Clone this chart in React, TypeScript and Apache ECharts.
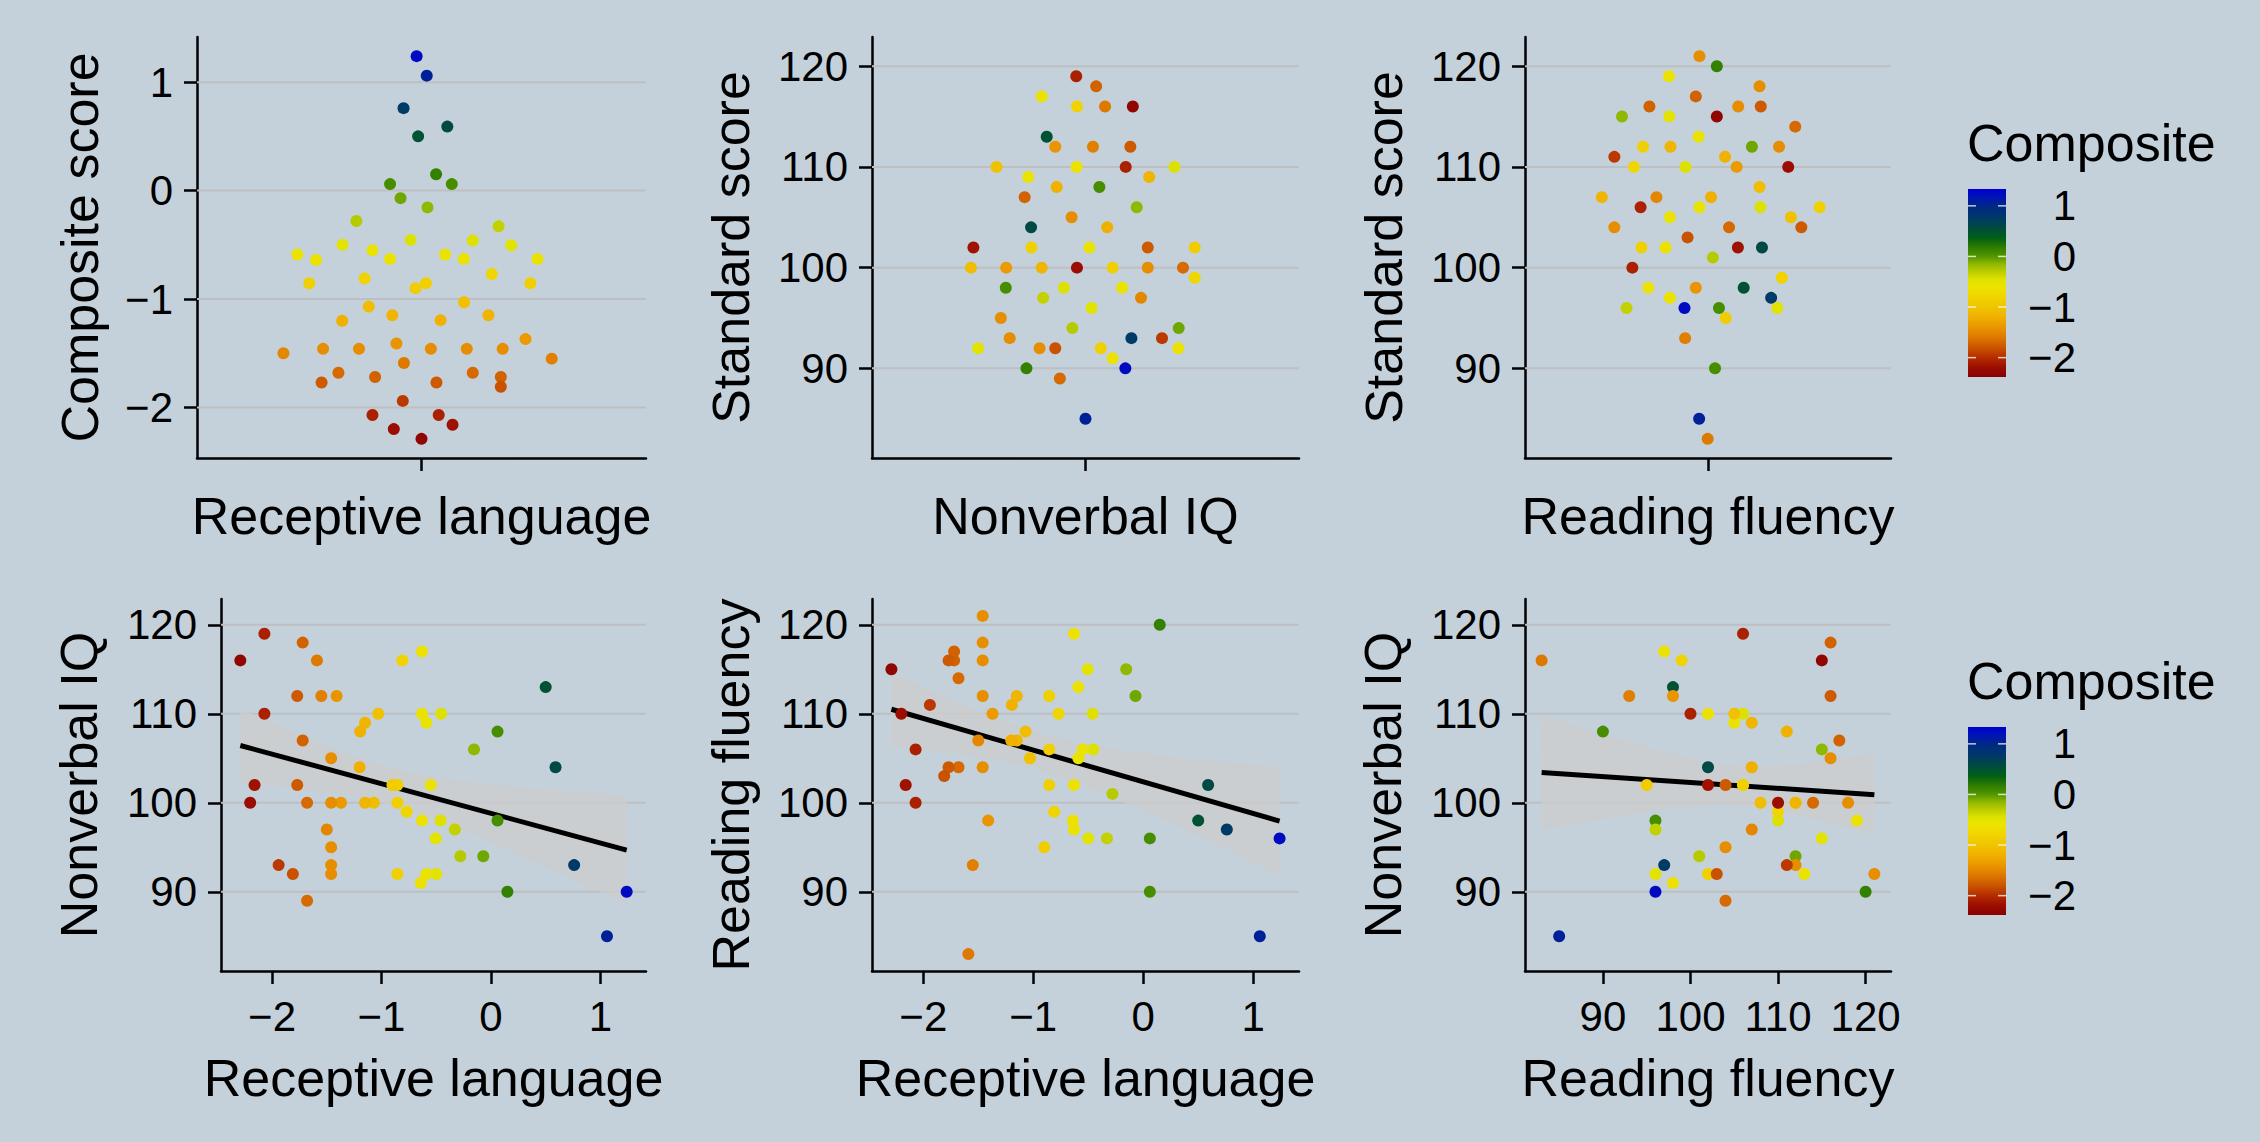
import React, { useEffect, useRef } from "react";
import * as echarts from "echarts";

// ---------------- data: one entry per participant ----------------
const composite = [
  1.24, 1.06, 0.76, 0.59, 0.5, 0.15, 0.06, 0.06, -0.07, -0.155, -0.28, -0.33, -0.455, -0.46, -0.5,
  -0.505, -0.55, -0.59, -0.59, -0.63, -0.63, -0.63, -0.64, -0.77, -0.81, -0.855, -0.855, -0.855, -0.9,
  -1.03, -1.07, -1.15, -1.15, -1.195, -1.2, -1.37, -1.41, -1.46, -1.46, -1.46, -1.46, -1.46, -1.5,
  -1.55, -1.59, -1.68, -1.68, -1.72, -1.72, -1.77, -1.77, -1.81, -1.94, -2.07, -2.07, -2.16, -2.2, -2.29,
];
const nonverbalIQ = [
  90, 85, 93, 104, 113, 90, 108, 98, 94, 106, 94, 97, 110, 98, 92, 96, 102, 109, 92, 117, 110, 98, 91,
  99, 116, 102, 100, 92, 102, 110, 100, 109, 100, 108, 104, 100, 112, 105, 100, 95, 93, 92, 97, 112,
  116, 100, 89, 118, 107, 112, 102, 92, 93, 119, 110, 102, 100, 116,
];
const readingFluency = [
  96, 85, 97, 102, 98, 120, 90, 96, 112, 115, 101, 96, 106, 110, 96, 115, 106, 105, 113, 97, 102, 119,
  98, 110, 99, 106, 112, 102, 95, 105, 108, 107, 112, 111, 107, 110, 98, 116, 118, 104, 112, 121, 107,
  93, 83, 114, 104, 116, 117, 116, 104, 103, 111, 106, 100, 102, 110, 115,
];
// horizontal jitter offsets of the strip plots
const jitterComposite = [
  -0.013, 0.014, -0.048, 0.069, -0.009, 0.039, -0.084, 0.081, -0.056, 0.016, -0.174, 0.206, -0.029,
  0.137, -0.211, 0.24, -0.131, -0.332, 0.063, -0.084, 0.113, 0.31, -0.282, 0.188, -0.152, -0.3, 0.012,
  0.291, -0.016, 0.114, -0.141, -0.078, 0.179, 0.051, -0.212, 0.278, -0.067, -0.263, -0.167, 0.025,
  0.121, 0.217, -0.369, 0.348, -0.047, -0.222, 0.137, -0.124, 0.212, -0.267, 0.04, 0.212, -0.05,
  -0.131, 0.046, 0.083, -0.074, 0.0,
];
const jitterNonverbal = [
  0.112, 0.0, 0.129, -0.153, -0.109, -0.166, 0.039, -0.224, 0.262, 0.144, -0.037, -0.119, 0.25,
  -0.061, -0.302, 0.017, 0.011, -0.161, 0.261, -0.123, -0.025, 0.103, 0.076, 0.307, -0.024, -0.152,
  0.076, 0.043, 0.307, -0.25, -0.322, 0.179, -0.123, -0.081, 0.061, -0.223, -0.085, -0.039, 0.175,
  -0.238, -0.213, -0.129, 0.156, 0.021, 0.055, 0.274, -0.072, 0.03, -0.171, 0.126, 0.175, -0.085,
  0.215, -0.026, 0.113, -0.315, -0.024, 0.133,
];
const jitterReading = [
  -0.077, -0.029, 0.207, 0.177, 0.117, 0.029, 0.023, 0.036, 0.144, -0.282, 0.016, -0.267, 0.172,
  -0.074, 0.227, -0.127, -0.028, -0.125, -0.031, -0.125, -0.139, -0.128, -0.196, -0.243, 0.242, 0.366,
  -0.213, -0.218, 0.058, 0.272, 0.169, -0.348, -0.123, 0.056, 0.01, 0.094, -0.04, 0.099, 0.169,
  -0.307, 0.233, -0.028, -0.169, -0.075, -0.001, 0.286, 0.069, -0.192, -0.04, 0.173, 0.306, -0.067,
  -0.307, -0.221, -0.248, 0.098, 0.263, 0.029,
];

const compositeTicks = [-2, -1, 0, 1];
const standardTicks = [90, 100, 110, 120];
const legendTicks = [-2, -1, 0, 1];
const legendTitle = "Composite";
const yTitles = ["Composite score", "Standard score", "Standard score", "Nonverbal IQ", "Reading fluency", "Nonverbal IQ"];
const xTitles = ["Receptive language", "Nonverbal IQ", "Reading fluency", "Receptive language", "Receptive language", "Reading fluency"];

// ---------------- styles & layout ----------------
const W = 2260;
const H = 1142;
const BG = "#c4d1db";
const GRID_COLOR = "#bdbfc2";
const BAND_COLOR = "rgba(205,205,205,0.72)";
const FONT = "'Liberation Sans', Arial, Helvetica, sans-serif";
const TITLE_SIZE = 52;
const TICK_SIZE = 42;

const GRIDS = [
  { left: 197, top: 37, width: 449, height: 421 },
  { left: 872, top: 37, width: 427, height: 421 },
  { left: 1525, top: 37, width: 366, height: 421 },
  { left: 221, top: 599, width: 425, height: 372 },
  { left: 872, top: 599, width: 427, height: 372 },
  { left: 1525, top: 599, width: 366, height: 372 },
];
const Y_TITLE_X = [80, 731, 1384, 79, 731, 1383];
const X_TITLE_Y = [516, 516, 516, 1078, 1078, 1078];
const LEGEND_OFFSETS = [0, 538];
const STRIP_RANGE = [0.4, 1.6];

// colour scale anchors (value -> colour)
const RAMP: [number, string][] = [
  [-2.38, "#880000"],
  [-2.2, "#9a0c00"],
  [-2.0, "#b42c00"],
  [-1.8, "#ca5400"],
  [-1.6, "#de7800"],
  [-1.4, "#ea9600"],
  [-1.2, "#f0b000"],
  [-1.0, "#f0c400"],
  [-0.8, "#f0d400"],
  [-0.6, "#ece400"],
  [-0.45, "#dee200"],
  [-0.3, "#bccc00"],
  [-0.15, "#90b800"],
  [0.0, "#529600"],
  [0.2, "#2a7a00"],
  [0.36, "#006014"],
  [0.55, "#004c3c"],
  [0.75, "#003a66"],
  [1.0, "#002886"],
  [1.15, "#0016b0"],
  [1.33, "#0000d2"],
];

function hexRgb(h: string) {
  return [parseInt(h.slice(1, 3), 16), parseInt(h.slice(3, 5), 16), parseInt(h.slice(5, 7), 16)];
}
function buildRamp(lo: number, hi: number, n: number) {
  const out: string[] = [];
  for (let k = 0; k < n; k++) {
    const v = lo + ((hi - lo) * k) / (n - 1);
    let i = 0;
    while (i < RAMP.length - 2 && v > RAMP[i + 1][0]) i++;
    const [v0, c0] = RAMP[i];
    const [v1, c1] = RAMP[i + 1];
    const t = Math.min(1, Math.max(0, (v - v0) / (v1 - v0)));
    const a = hexRgb(c0);
    const b = hexRgb(c1);
    const c = a.map((x, j) => Math.round(x + (b[j] - x) * t));
    out.push(`rgb(${c[0]},${c[1]},${c[2]})`);
  }
  return out;
}

function fmt(v: number) {
  return v < 0 ? "\u2212" + Math.abs(v) : String(v);
}
function paddedRange(values: number[]) {
  const lo = Math.min(...values);
  const hi = Math.max(...values);
  const pad = (hi - lo) * 0.05;
  return [lo - pad, hi + pad];
}
function tQuantile975(df: number) {
  const z = 1.959964;
  return z + (z ** 3 + z) / (4 * df) + (5 * z ** 5 + 16 * z ** 3 + 3 * z) / (96 * df * df);
}
function fitLine(xs: number[], ys: number[]) {
  const n = xs.length;
  const mx = xs.reduce((s, v) => s + v, 0) / n;
  const my = ys.reduce((s, v) => s + v, 0) / n;
  let sxx = 0;
  let sxy = 0;
  for (let i = 0; i < n; i++) {
    sxx += (xs[i] - mx) ** 2;
    sxy += (xs[i] - mx) * (ys[i] - my);
  }
  const b = sxy / sxx;
  const a = my - b * mx;
  let sse = 0;
  for (let i = 0; i < n; i++) sse += (ys[i] - a - b * xs[i]) ** 2;
  const s = Math.sqrt(sse / (n - 2));
  const t = tQuantile975(n - 2);
  const xmin = Math.min(...xs);
  const xmax = Math.max(...xs);
  const N = 80;
  const band: number[][] = [];
  for (let k = 0; k < N; k++) {
    const x0 = xmin + ((xmax - xmin) * k) / (N - 1);
    const yh = a + b * x0;
    const se = s * Math.sqrt(1 / n + (x0 - mx) ** 2 / sxx);
    band.push([x0, yh - t * se, yh + t * se]);
  }
  return { line: [[xmin, a + b * xmin], [xmax, a + b * xmax]], band };
}

const axisLineStyle = { color: "#000", width: 2.5 };

function valueAxis(gridIndex: number, range: number[], ticks: number[]) {
  return {
    type: "value",
    gridIndex,
    min: range[0],
    max: range[1],
    axisLine: { show: true, onZero: false, lineStyle: axisLineStyle },
    axisTick: { show: true, length: 13, customValues: ticks, lineStyle: axisLineStyle },
    axisLabel: {
      show: true,
      customValues: ticks,
      formatter: (v: number) => fmt(v),
      margin: 24,
      fontSize: TICK_SIZE,
      color: "#000",
      fontFamily: FONT,
    },
    splitLine: { show: false },
  };
}
function stripAxis(gridIndex: number) {
  return {
    type: "value",
    gridIndex,
    min: STRIP_RANGE[0],
    max: STRIP_RANGE[1],
    axisLine: { show: true, onZero: false, lineStyle: axisLineStyle },
    axisTick: { show: true, length: 13, customValues: [1], lineStyle: axisLineStyle },
    axisLabel: { show: false },
    splitLine: { show: false },
  };
}

function buildOption() {
  const compRange = paddedRange(composite);
  const stdRange = paddedRange([...nonverbalIQ, ...readingFluency]);
  const cMin = Math.min(...composite);
  const cMax = Math.max(...composite);
  const halfBin = (cMax - cMin) / 19 / 2;
  const barMin = cMin - halfBin;
  const barMax = cMax + halfBin;
  const ramp = buildRamp(barMin, barMax, 64);

  const xAxes: any[] = [];
  const yAxes: any[] = [];
  const series: any[] = [];
  const scatterIdx: number[] = [];

  const addGridLines = (k: number, xr: number[], ticks: number[]) => {
    ticks.forEach((t) => {
      series.push({
        type: "line",
        xAxisIndex: k,
        yAxisIndex: k,
        data: [
          [xr[0], t],
          [xr[1], t],
        ],
        symbol: "none",
        lineStyle: { color: GRID_COLOR, width: 2 },
        silent: true,
        z: 0,
      });
    });
  };
  const scatter = (k: number, data: number[][]) => ({
    type: "scatter",
    xAxisIndex: k,
    yAxisIndex: k,
    data,
    symbolSize: 12,
    itemStyle: { opacity: 1 },
    silent: true,
    z: 3,
  });

  const topPanels = [
    { values: composite, jitter: jitterComposite, range: compRange, ticks: compositeTicks },
    { values: nonverbalIQ, jitter: jitterNonverbal, range: stdRange, ticks: standardTicks },
    { values: readingFluency, jitter: jitterReading, range: stdRange, ticks: standardTicks },
  ];
  topPanels.forEach((p, k) => {
    xAxes.push(stripAxis(k));
    yAxes.push(valueAxis(k, p.range, p.ticks));
    addGridLines(k, STRIP_RANGE, p.ticks);
    scatterIdx.push(series.length);
    series.push(scatter(k, p.values.map((v, i) => [1 + p.jitter[i], v, composite[i]])));
  });

  const bottomPanels = [
    { x: composite, y: nonverbalIQ, xr: compRange, xt: compositeTicks },
    { x: composite, y: readingFluency, xr: compRange, xt: compositeTicks },
    { x: readingFluency, y: nonverbalIQ, xr: stdRange, xt: standardTicks },
  ];
  bottomPanels.forEach((p, j) => {
    const k = j + 3;
    xAxes.push(valueAxis(k, p.xr, p.xt));
    yAxes.push(valueAxis(k, stdRange, standardTicks));
    addGridLines(k, p.xr, standardTicks);
    const f = fitLine(p.x, p.y);
    const band = f.band;
    series.push({
      type: "custom",
      xAxisIndex: k,
      yAxisIndex: k,
      data: band,
      encode: { x: 0, y: [1, 2] },
      silent: true,
      z: 1,
      renderItem: (params: any, api: any) => {
        if (params.dataIndex !== 0) return { type: "group", children: [] };
        const upper = band.map((b) => api.coord([b[0], b[2]]));
        const lower = band
          .slice()
          .reverse()
          .map((b) => api.coord([b[0], b[1]]));
        return {
          type: "polygon",
          shape: { points: upper.concat(lower) },
          style: { fill: BAND_COLOR, stroke: "none" },
        };
      },
    });
    series.push({
      type: "line",
      xAxisIndex: k,
      yAxisIndex: k,
      data: f.line,
      symbol: "none",
      lineStyle: { color: "#000", width: 5 },
      silent: true,
      z: 2,
    });
    scatterIdx.push(series.length);
    series.push(scatter(k, p.x.map((xv, i) => [xv, p.y[i], composite[i]])));
  });

  const graphic: any[] = [];
  GRIDS.forEach((g, k) => {
    graphic.push({
      type: "text",
      x: g.left + g.width / 2,
      y: X_TITLE_Y[k],
      style: { text: xTitles[k], align: "center", verticalAlign: "middle", fontSize: TITLE_SIZE, fontFamily: FONT, fill: "#000" },
    });
    graphic.push({
      type: "text",
      x: Y_TITLE_X[k],
      y: g.top + g.height / 2,
      rotation: Math.PI / 2,
      style: { text: yTitles[k], align: "center", verticalAlign: "middle", fontSize: TITLE_SIZE, fontFamily: FONT, fill: "#000" },
    });
  });

  const nR = ramp.length;
  const gradStops = ramp.map((_, i) => ({ offset: i / (nR - 1), color: ramp[nR - 1 - i] }));
  LEGEND_OFFSETS.forEach((off) => {
    const barX = 1968;
    const barY = 189 + off;
    const barW = 38;
    const barH = 188;
    graphic.push({
      type: "text",
      x: 1967,
      y: 143 + off,
      style: { text: legendTitle, align: "left", verticalAlign: "middle", fontSize: TITLE_SIZE, fontFamily: FONT, fill: "#000" },
    });
    graphic.push({
      type: "rect",
      shape: { x: barX, y: barY, width: barW, height: barH },
      style: { fill: new echarts.graphic.LinearGradient(0, 0, 0, 1, gradStops) },
    });
    legendTicks.forEach((t) => {
      const ty = barY + ((barMax - t) / (barMax - barMin)) * barH;
      graphic.push({
        type: "line",
        shape: { x1: barX, y1: ty, x2: barX + 8, y2: ty },
        style: { stroke: "rgba(255,255,255,0.75)", lineWidth: 1.5 },
      });
      graphic.push({
        type: "line",
        shape: { x1: barX + barW - 8, y1: ty, x2: barX + barW, y2: ty },
        style: { stroke: "rgba(255,255,255,0.75)", lineWidth: 1.5 },
      });
      graphic.push({
        type: "text",
        x: 2076,
        y: ty,
        style: { text: fmt(t), align: "right", verticalAlign: "middle", fontSize: TICK_SIZE, fontFamily: FONT, fill: "#000" },
      });
    });
  });

  return {
    animation: false,
    backgroundColor: BG,
    textStyle: { fontFamily: FONT },
    grid: GRIDS.map((g) => ({ ...g, containLabel: false })),
    xAxis: xAxes,
    yAxis: yAxes,
    visualMap: {
      type: "continuous",
      show: false,
      dimension: 2,
      seriesIndex: scatterIdx,
      min: barMin,
      max: barMax,
      inRange: { color: ramp },
    },
    series,
    graphic,
  };
}

export default function App() {
  const ref = useRef<HTMLDivElement>(null);
  useEffect(() => {
    document.body.style.margin = "0";
    const chart = echarts.init(ref.current!, undefined, { renderer: "svg", width: W, height: H });
    chart.setOption(buildOption() as any);
    return () => chart.dispose();
  }, []);
  return <div ref={ref} style={{ width: W, height: H, background: BG }} />;
}
